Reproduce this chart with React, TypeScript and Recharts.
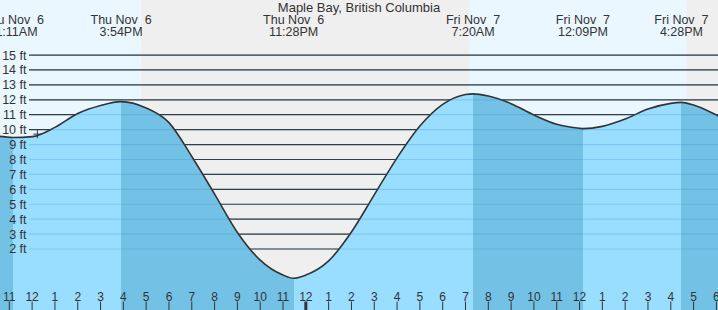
import React from 'react';
import {
    ComposedChart, Area, XAxis, YAxis, ReferenceArea, ReferenceLine, ReferenceDot
} from 'recharts';

// hours counted from Thu Nov 6 00:00
const hours = [10.5, 11, 11.183, 12, 13, 14, 15, 15.9, 17, 18, 19, 20, 21, 22, 23, 23.467, 24, 25, 26, 27, 28, 29, 30, 31, 31.333, 32, 33, 34, 35, 36, 36.15, 37, 38, 39, 40, 40.467, 41, 42, 42.5];
const heights = [9.56, 9.49, 9.47, 9.53, 10.15, 11.08, 11.62, 11.88, 11.45, 10.47, 8.2, 5.68, 3.11, 1.25, 0.25, 0.04, 0.25, 1.2, 3.14, 5.63, 8.11, 10.24, 11.69, 12.35, 12.4, 12.25, 11.74, 10.98, 10.36, 10.09, 10.07, 10.22, 10.71, 11.38, 11.76, 11.83, 11.65, 10.98, 10.6];

const eventHours = [11.183, 15.9, 23.467, 31.333, 36.15, 40.467];
const eventDays = ['Thu Nov  6', 'Thu Nov  6', 'Thu Nov  6', 'Fri Nov  7', 'Fri Nov  7', 'Fri Nov  7'];
const eventClock = ['11:11AM', '3:54PM', '11:28PM', '7:20AM', '12:09PM', '4:28PM'];

const nightStart = [16.77, 40.7];
const nightEnd = [31.15, 42.07];

const feetTicks = [2, 3, 4, 5, 6, 7, 8, 9, 10, 11, 12, 13, 14, 15];
const hourTicks = Array.from({ length: 32 }, (_, i) => 11 + i);

const X_MIN = 10.592;
const X_MAX = 42.07;
const Y_MIN = -2.09;
const Y_MAX = 18.69;
const W = 718;
const H = 310;
const GRID_X0 = X_MIN + (29 / W) * (X_MAX - X_MIN);

const FONT = '"Liberation Sans", Arial, sans-serif';
const INK = '#333333';
const DAY = '#ebf7ff';
const NIGHT = '#efefef';
const WATER_UP = '#99ddff';
const WATER_DOWN = '#73c2e6';

const data = hours.map((t, i) => ({ t, ft: heights[i] }));

// water colour flips at each high / low
const waterStops: { off: number; color: string }[] = [];
{
    let color = WATER_DOWN;
    let prev = 0;
    eventHours.forEach((h) => {
        const off = (h - X_MIN) / (X_MAX - X_MIN);
        waterStops.push({ off: prev, color }, { off, color });
        color = color === WATER_DOWN ? WATER_UP : WATER_DOWN;
        prev = off;
    });
    waterStops.push({ off: prev, color }, { off: 1, color });
}

const hourShape = (h: number) => ({ cx, cy }: any) => {
    const label = (((h % 12) + 11) % 12) + 1;
    return (
        <g>
            <text x={cx} y={cy - 9.5} textAnchor="middle" fontSize={12} fontFamily={FONT} fill={INK}>{label}</text>
            <line x1={cx} x2={cx} y1={cy - 8.5} y2={cy} stroke={INK} strokeWidth={h % 24 === 0 ? 3 : 1} />
        </g>
    );
};

const eventShape = (i: number) => ({ cx, cy }: any) => (
    <g>
        <text x={cx} y={cy + 24} textAnchor="middle" fontSize={12.5} fontFamily={FONT} fill={INK} style={{ whiteSpace: 'pre' }}>{eventDays[i]}</text>
        <text x={cx} y={cy + 36} textAnchor="middle" fontSize={12.5} fontFamily={FONT} fill={INK}>{eventClock[i]}</text>
    </g>
);

const feetShape = (v: number) => ({ cx, cy }: any) => (
    <text x={cx + 26.5} y={cy + 4.5} textAnchor="end" fontSize={12.5} fontFamily={FONT} fill={INK}>{`${v} ft`}</text>
);

const CrossMark = ({ cx, cy }: any) => (
    <path d={`M${cx - 4},${cy} h8 M${cx},${cy - 4} v8`} stroke={INK} strokeWidth={1} fill="none" />
);

export default function App() {
    return (
        <div style={{ position: 'absolute', left: 0, top: 0, width: W, height: H, background: DAY, fontFamily: FONT }}>
            <ComposedChart width={W} height={H} data={data} margin={{ top: 0, right: 0, bottom: 0, left: 0 }}>
                <defs>
                    <linearGradient id="water" gradientUnits="userSpaceOnUse" x1={0} y1={0} x2={W} y2={0}>
                        {waterStops.map((s, i) => (
                            <stop key={i} offset={s.off} stopColor={s.color} />
                        ))}
                    </linearGradient>
                </defs>
                <XAxis dataKey="t" type="number" domain={[X_MIN, X_MAX]} allowDataOverflow hide />
                <YAxis type="number" domain={[Y_MIN, Y_MAX]} allowDataOverflow hide />
                {nightStart.map((s, i) => (
                    <ReferenceArea key={`n${i}`} x1={s} x2={nightEnd[i]} y1={Y_MIN} y2={Y_MAX} fill={NIGHT} fillOpacity={1} stroke="none" zIndex={-300} />
                ))}
                {feetTicks.map((v) => (
                    <ReferenceLine key={`d${v}`} segment={[{ x: GRID_X0, y: v }, { x: X_MAX, y: v }]} stroke={INK} strokeWidth={1.2} zIndex={-200} />
                ))}
                <Area
                    type="monotone"
                    dataKey="ft"
                    baseValue={Y_MIN}
                    stroke={INK}
                    strokeWidth={1.6}
                    fill="url(#water)"
                    fillOpacity={1}
                    isAnimationActive={false}
                    dot={false}
                    activeDot={false}
                />
                {feetTicks.map((v) => (
                    <ReferenceLine key={`w${v}`} segment={[{ x: GRID_X0, y: v }, { x: X_MAX, y: v }]} stroke="rgba(30,120,180,0.2)" strokeWidth={1.2} zIndex={450} />
                ))}
                {feetTicks.map((v) => (
                    <ReferenceDot key={`f${v}`} x={X_MIN} y={v} ifOverflow="visible" shape={feetShape(v)} zIndex={900} />
                ))}
                {hourTicks.map((h) => (
                    <ReferenceDot key={`h${h}`} x={h} y={Y_MIN} ifOverflow="visible" shape={hourShape(h)} zIndex={900} />
                ))}
                {eventHours.map((h, i) => (
                    <ReferenceDot key={`e${i}`} x={h} y={Y_MAX} ifOverflow="visible" shape={eventShape(i)} zIndex={900} />
                ))}
                <ReferenceDot x={12.23} y={9.7} shape={<CrossMark />} zIndex={900} />
            </ComposedChart>
            <div style={{ position: 'absolute', left: 0, top: 0, width: W, textAlign: 'center', fontSize: 13, lineHeight: '15px', color: INK, pointerEvents: 'none' }}>
                Maple Bay, British Columbia
            </div>
        </div>
    );
}
